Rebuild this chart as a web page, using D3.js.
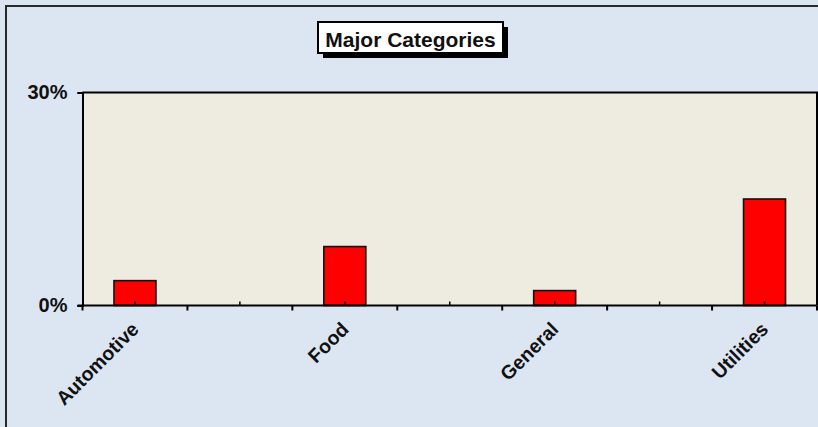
<!DOCTYPE html>
<html>
<head>
<meta charset="utf-8">
<script src="https://cdn.jsdelivr.net/npm/d3@7"></script>
<style>
  html, body { margin: 0; padding: 0; background: #dce6f2; }
  svg { display: block; font-family: "Liberation Sans", Arial, sans-serif; }
</style>
</head>
<body>
<svg id="chart" width="818" height="427"></svg>
<script>
// Category slots along the axis (label shown on every other slot)
const categories = ["Automotive", "", "Food", "", "General", "", "Utilities"];
// Share of total, in percent
const values = [3.5, null, 8.3, null, 2.1, null, 15.0];
// Value axis ticks, in percent
const yTicks = [0, 30];
const chartTitle = "Major Categories";

const svg = d3.select("#chart");
const W = 818, H = 427;
const plot = { left: 82.5, right: 817, top: 92.5, bottom: 305.5 };

// Chart area background and frame
svg.append("rect")
  .attr("x", 6).attr("y", 6).attr("width", W + 20).attr("height", H + 20)
  .attr("fill", "#dce6f2").attr("stroke", "#2a2a2a").attr("stroke-width", 2);

const slots = categories.map((c, i) => i);

const x = d3.scaleBand()
  .domain(slots)
  .range([plot.left, plot.right])
  .paddingInner(0.6)
  .paddingOuter(0.3);

const xOuter = d3.scaleBand()
  .domain(slots)
  .range([plot.left, plot.right])
  .padding(0);

const y = d3.scaleLinear()
  .domain([0, 30])
  .range([plot.bottom, plot.top]);

// Plot area
svg.append("rect")
  .attr("x", plot.left).attr("y", plot.top)
  .attr("width", plot.right - plot.left).attr("height", plot.bottom - plot.top)
  .attr("fill", "#eeebe0");

// Bars
svg.append("g")
  .selectAll("rect")
  .data(slots.filter(i => values[i] != null))
  .join("rect")
  .attr("x", i => x(i))
  .attr("width", x.bandwidth())
  .attr("y", i => y(values[i]))
  .attr("height", i => y(0) - y(values[i]))
  .attr("fill", "#ff0000")
  .attr("stroke", "#111")
  .attr("stroke-width", 1.6);

// Plot frame: top and right edges
svg.append("path")
  .attr("d", `M${plot.left},${plot.top}H${plot.right}V${plot.bottom}`)
  .attr("fill", "none").attr("stroke", "#000").attr("stroke-width", 2);

// Value axis
const yAxis = d3.axisLeft(y)
  .tickValues(yTicks)
  .tickSize(5)
  .tickPadding(10)
  .tickFormat(d => d + "%");
const gy = svg.append("g")
  .attr("transform", `translate(${plot.left},0)`)
  .call(yAxis);
gy.select(".domain").attr("stroke", "#000").attr("stroke-width", 2);
gy.selectAll(".tick line").attr("stroke", "#000").attr("stroke-width", 2);
gy.selectAll(".tick text")
  .attr("font-size", 20).attr("font-weight", "bold").attr("fill", "#111")
  .attr("font-family", "'Liberation Sans', Arial, sans-serif");

// Category axis: boundary ticks below, centre ticks above
const gx = svg.append("g");
gx.append("line")
  .attr("x1", plot.left - 5).attr("x2", plot.right)
  .attr("y1", plot.bottom).attr("y2", plot.bottom)
  .attr("stroke", "#000").attr("stroke-width", 2);

const bounds = slots.map(i => xOuter(i)).concat([plot.right]);
gx.selectAll("line.bound")
  .data(bounds)
  .join("line")
  .attr("class", "bound")
  .attr("x1", d => d).attr("x2", d => d)
  .attr("y1", plot.bottom).attr("y2", plot.bottom + 5)
  .attr("stroke", "#000").attr("stroke-width", 2);

gx.selectAll("line.centre")
  .data(slots)
  .join("line")
  .attr("class", "centre")
  .attr("x1", i => xOuter(i) + xOuter.bandwidth() / 2)
  .attr("x2", i => xOuter(i) + xOuter.bandwidth() / 2)
  .attr("y1", plot.bottom).attr("y2", plot.bottom - 4)
  .attr("stroke", "#000").attr("stroke-width", 1.5);

gx.selectAll("text")
  .data(slots.filter(i => categories[i] !== ""))
  .join("text")
  .attr("transform", i => `translate(${xOuter(i) + xOuter.bandwidth() / 2 + 5},${plot.bottom + 25}) rotate(-45)`)
  .attr("text-anchor", "end")
  .attr("font-size", 19.5).attr("font-weight", "bold").attr("fill", "#111")
  .text(i => categories[i]);

// Title box with drop shadow
const tb = { x: 318, y: 22, w: 185, h: 31 };
svg.append("rect")
  .attr("x", tb.x + 5).attr("y", tb.y + 5).attr("width", tb.w).attr("height", tb.h)
  .attr("fill", "#000");
svg.append("rect")
  .attr("x", tb.x).attr("y", tb.y).attr("width", tb.w).attr("height", tb.h)
  .attr("fill", "#fff").attr("stroke", "#000").attr("stroke-width", 2);
svg.append("text")
  .attr("x", tb.x + tb.w / 2).attr("y", tb.y + 24.5)
  .attr("text-anchor", "middle")
  .attr("font-size", 21).attr("font-weight", "bold").attr("fill", "#111")
  .text(chartTitle);
</script>
</body>
</html>
